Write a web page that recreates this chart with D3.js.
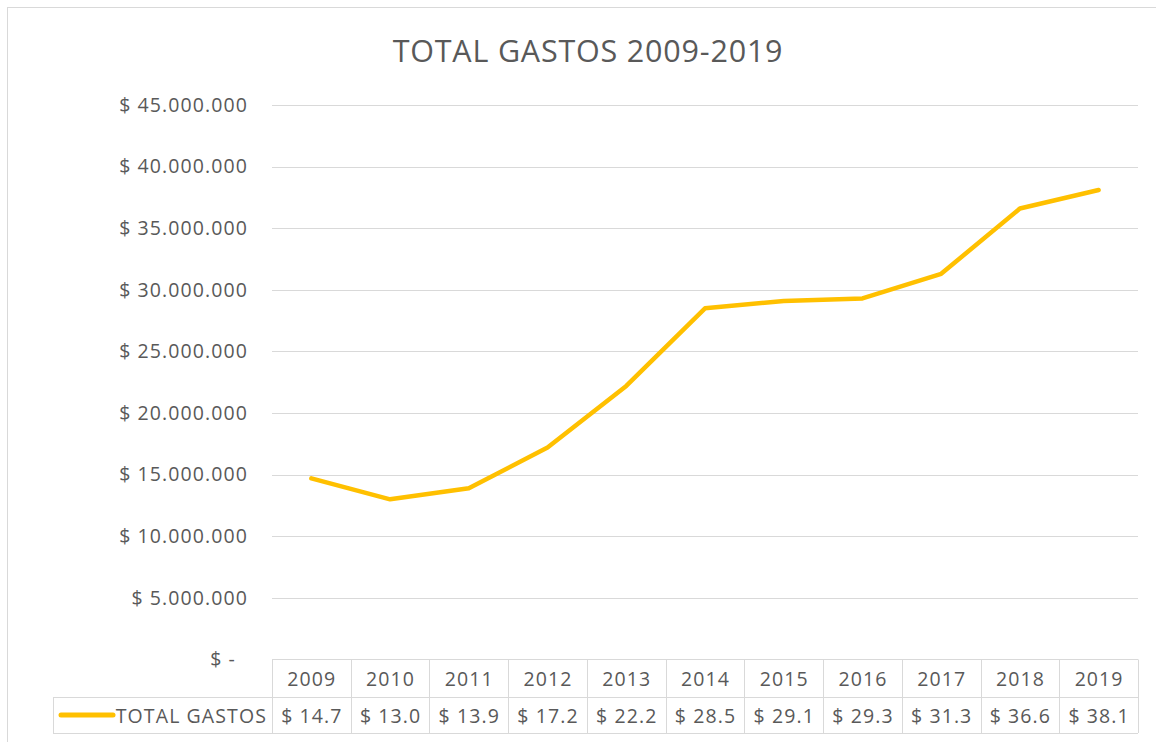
<!DOCTYPE html>
<html><head><meta charset="utf-8">
<script src="https://cdn.jsdelivr.net/npm/d3@7"></script>
<style>body{margin:0;background:#fff}svg{display:block}text{font-family:"Open Sans",sans-serif;fill:#595959}</style>
</head><body><svg id="c" width="1156" height="742"></svg>
<script>
const title = "TOTAL GASTOS 2009-2019";
const seriesName = "TOTAL GASTOS";
const years = ["2009","2010","2011","2012","2013","2014","2015","2016","2017","2018","2019"];
const values = [14700000,13000000,13900000,17200000,22200000,28500000,29100000,29300000,31300000,36600000,38100000];
const yTicks = [0,5000000,10000000,15000000,20000000,25000000,30000000,35000000,40000000,45000000];

const svg = d3.select("#c");
const L = 272, R = 1138, T = 105, B = 659.5;
const rowMid = 697, tableBot = 733, legLeft = 53;
const grid = "#d9d9d9";
const fs = 19.5, ls = 1.1;

svg.append("rect").attr("x",7.5).attr("y",7.5).attr("width",1200).attr("height",800)
  .attr("fill","#fff").attr("stroke",grid);

const x = d3.scaleBand().domain(years).range([L,R]);
const y = d3.scaleLinear().domain([0,45000000]).range([B,T]);

const fmtAxis = v => v===0 ? "$ -" : "$ " + d3.format(",")(v).replace(/,/g,".");
svg.append("g").selectAll("line").data(yTicks.filter(d=>d>0)).join("line")
  .attr("x1",L).attr("x2",R).attr("y1",d=>Math.round(y(d))+0.5).attr("y2",d=>Math.round(y(d))+0.5)
  .attr("stroke",grid).attr("stroke-width",1);

svg.append("g").selectAll("text").data(yTicks).join("text")
  .attr("x",d=>d===0?236:248).attr("y",d=>y(d)).attr("dy","0.35em")
  .attr("text-anchor","end").attr("font-size",fs).attr("letter-spacing",ls).text(fmtAxis);

svg.append("text").attr("x",588).attr("y",51).attr("dy","0.35em").attr("text-anchor","middle")
  .attr("font-size",30.5).attr("letter-spacing",0.8).text(title);

// table
const tg = svg.append("g").attr("stroke",grid).attr("stroke-width",1);
tg.append("line").attr("x1",L).attr("x2",R).attr("y1",B).attr("y2",B);
tg.append("line").attr("x1",legLeft).attr("x2",R).attr("y1",rowMid+0.5).attr("y2",rowMid+0.5);
tg.append("line").attr("x1",legLeft).attr("x2",R).attr("y1",tableBot+0.5).attr("y2",tableBot+0.5);
tg.append("line").attr("x1",legLeft+0.5).attr("x2",legLeft+0.5).attr("y1",rowMid).attr("y2",tableBot);
const bounds = years.map(d=>x(d)).concat([R]);
tg.selectAll("line.v").data(bounds).join("line").attr("class","v")
  .attr("x1",d=>Math.round(d)+0.5).attr("x2",d=>Math.round(d)+0.5).attr("y1",B).attr("y2",tableBot);

svg.append("g").selectAll("text").data(years).join("text")
  .attr("x",d=>x(d)+x.bandwidth()/2+0.5).attr("y",(B+rowMid)/2+1).attr("dy","0.35em")
  .attr("text-anchor","middle").attr("font-size",fs).attr("letter-spacing",ls).text(d=>d);
svg.append("g").selectAll("text").data(values).join("text")
  .attr("x",(d,i)=>x(years[i])+x.bandwidth()/2+0.5).attr("y",(rowMid+tableBot)/2+1).attr("dy","0.35em")
  .attr("text-anchor","middle").attr("font-size",fs).attr("letter-spacing",ls).text(d=>"$ "+(d/1e6).toFixed(1));

svg.append("line").attr("x1",61).attr("x2",113).attr("y1",715).attr("y2",715)
  .attr("stroke","#FFC000").attr("stroke-width",5).attr("stroke-linecap","round");
svg.append("text").attr("x",267).attr("y",(rowMid+tableBot)/2+1).attr("dy","0.35em")
  .attr("text-anchor","end").attr("font-size",fs).attr("letter-spacing",ls).text(seriesName);

const line = d3.line().x((d,i)=>x(years[i])+x.bandwidth()/2).y(d=>y(d));
svg.append("path").datum(values).attr("d",line).attr("fill","none")
  .attr("stroke","#FFC000").attr("stroke-width",4.5).attr("stroke-linecap","round").attr("stroke-linejoin","round");
</script></body></html>
